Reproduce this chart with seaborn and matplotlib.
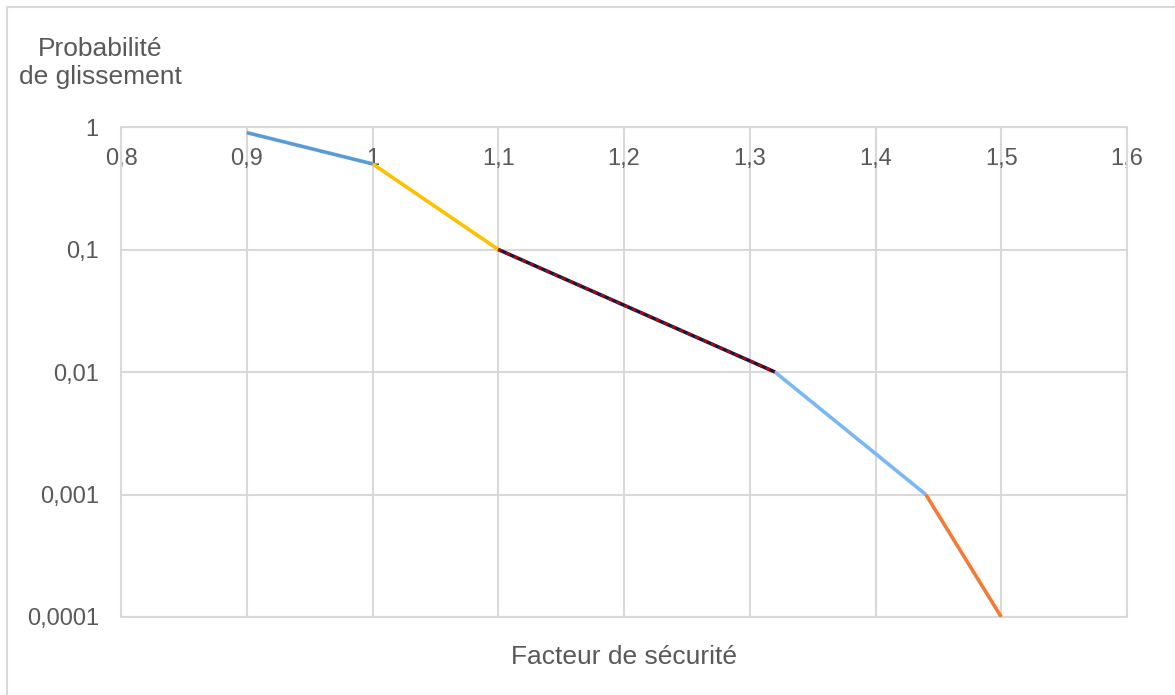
import matplotlib
matplotlib.use("Agg")
import matplotlib.pyplot as plt
import seaborn as sns
import pandas as pd
from matplotlib.lines import Line2D

# Data
facteur = [0.9, 1.0, 1.1, 1.32, 1.44, 1.5]
probabilite = [0.9, 0.5, 0.1, 0.01, 0.001, 0.0001]
segment_colors = ["#5B9BD5", "#FFC000", "#0E1B45", "#7AB8F5", "#F47B35"]
x_ticks = [0.8, 0.9, 1.0, 1.1, 1.2, 1.3, 1.4, 1.5, 1.6]
x_ticklabels = ["0,8", "0,9", "1", "1,1", "1,2", "1,3", "1,4", "1,5", "1,6"]
y_ticks = [1, 0.1, 0.01, 0.001, 0.0001]
y_ticklabels = ["1", "0,1", "0,01", "0,001", "0,0001"]

sns.set_theme(style="white")
plt.rcParams["font.family"] = ["Liberation Sans", "DejaVu Sans"]

TXT = "#595959"
GRID = "#D9D9D9"

fig = plt.figure(figsize=(11.75, 6.95), dpi=100)
ax = fig.add_axes([121 / 1175, 1 - 617 / 695, (1127 - 121) / 1175, (617 - 127) / 695])

for i in range(len(facteur) - 1):
    seg = pd.DataFrame({"x": facteur[i:i + 2], "y": probabilite[i:i + 2]})
    sns.lineplot(data=seg, x="x", y="y", ax=ax, color=segment_colors[i],
                 linewidth=2.6, solid_capstyle="butt", zorder=3)
    if i == 2:
        sns.lineplot(data=seg, x="x", y="y", ax=ax, color="#C00000",
                     linewidth=2.0, zorder=4)
        ax.lines[-1].set_linestyle((0, (1.5, 1.6)))
        ax.lines[-1].set_dash_capstyle("butt")

ax.set_yscale("log")
ax.set_xlim(0.8, 1.6)
ax.set_ylim(0.0001, 1)
ax.set_xticks(x_ticks)
ax.set_xticklabels(x_ticklabels)
ax.set_yticks(y_ticks)
ax.set_yticklabels(y_ticklabels)
ax.minorticks_off()
ax.xaxis.tick_top()
ax.tick_params(axis="x", length=0, pad=-31, labelsize=17, labelcolor=TXT)
ax.tick_params(axis="y", length=0, pad=16, labelsize=17, labelcolor=TXT)
ax.set_xlabel("")
ax.set_ylabel("")
ax.grid(True, color=GRID, linewidth=1.5)
ax.set_axisbelow(True)
for s in ax.spines.values():
    s.set_color(GRID)
    s.set_linewidth(1.5)

fig.text(624 / 1175, 1 - 657 / 695, "Facteur de sécurité", ha="center", va="center",
         fontsize=19, color=TXT)
fig.text(100 / 1175, 1 - 63 / 695, "Probabilité\nde glissement", ha="center", va="center",
         multialignment="center", fontsize=19, color=TXT, linespacing=1.25)

# outer frame (top and left edges)
fig.add_artist(Line2D([7 / 1175, 1], [1 - 7 / 695, 1 - 7 / 695], color=GRID, linewidth=1.5,
                      transform=fig.transFigure))
fig.add_artist(Line2D([7 / 1175, 7 / 1175], [0, 1 - 7 / 695], color=GRID, linewidth=1.5,
                      transform=fig.transFigure))

fig.savefig("out.png", dpi=100)
